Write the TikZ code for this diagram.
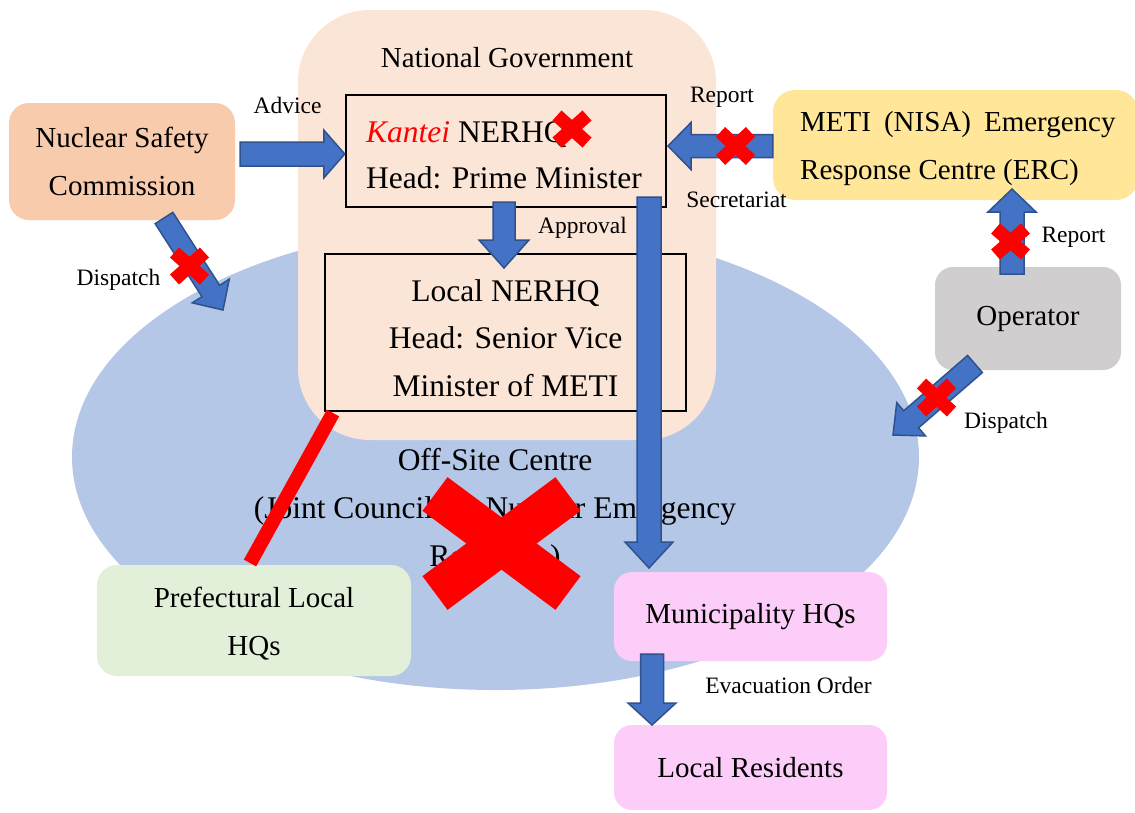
\documentclass[tikz,border=0pt]{standalone}
\usepackage{fontspec}
\setmainfont{Liberation Serif}
\usetikzlibrary{calc,shapes.geometric}
\definecolor{govbg}{HTML}{FBE5D6}
\definecolor{ellbg}{HTML}{B4C7E7}
\definecolor{nscbg}{HTML}{F8CBAD}
\definecolor{metibg}{HTML}{FFE699}
\definecolor{opbg}{HTML}{D0CECE}
\definecolor{prefbg}{HTML}{E2F0D9}
\definecolor{munbg}{HTML}{FCCDF8}
\definecolor{arrblue}{HTML}{4472C4}
\definecolor{arredge}{HTML}{2F528F}
\definecolor{xred}{HTML}{FF0000}
\newcommand{\fsmain}{\fontsize{29pt}{48pt}\selectfont}
\newcommand{\fsgov}{\fontsize{31.5pt}{47.5pt}\selectfont}
\newcommand{\fslab}{\fontsize{23.5pt}{28pt}\selectfont}
% block arrow: start, end, shaft half width, head half width, head length
\newcommand{\blockarrow}[5]{%
  \coordinate (ba-h) at ($(#2)!#5!(#1)$);
  \filldraw[blockarr]
    ($(#1)!#3!90:(#2)$) -- ($(ba-h)!#3!90:(#2)$) -- ($(ba-h)!#4!90:(#2)$)
    -- (#2) -- ($(ba-h)!#4!-90:(#2)$) -- ($(ba-h)!#3!-90:(#2)$)
    -- ($(#1)!#3!-90:(#2)$) -- cycle;
}
% red cross: centre, dx, dy, bar width
\newcommand{\redcross}[4]{%
  \draw[xred, line width=#4] ($(#1)+(-#2,-#3)$) -- ($(#1)+(#2,#3)$);
  \draw[xred, line width=#4] ($(#1)+(-#2,#3)$) -- ($(#1)+(#2,-#3)$);
}
\tikzset{
  blockarr/.style={fill=arrblue, draw=arredge, line width=1.5pt, line join=miter},
  boxnode/.style={draw=none, align=center, inner sep=0pt, font=\fsmain},
  framebox/.style={draw=black, line width=2.5pt, inner sep=0pt},
  txt/.style={align=center, inner sep=0pt},
  lab/.style={anchor=base, font=\fslab, inner sep=0pt},
}
\begin{document}
\begin{tikzpicture}[x=1pt,y=-1pt]
\path[use as bounding box, clip] (0,0) rectangle (1135,812);
% Off-site centre ellipse
\node[ellipse, fill=ellbg, draw=none, minimum width=847pt, minimum height=466pt, inner sep=0pt] (osc) at (495.5,457) {};
% National government
\node[fill=govbg, draw=none, rounded corners=72pt, minimum width=418pt, minimum height=430pt, inner sep=0pt] (gov) at (507,225) {};
\node[lab, font=\fsmain] (govtitle) at (507,67) {National Government};
% boxes
\node[boxnode, fill=nscbg, rounded corners=20pt, minimum width=226pt, minimum height=117pt] (nsc) at (122,161.5) {Nuclear Safety\\Commission};
\node[framebox, minimum width=320pt, minimum height=112pt] (kantei) at (506,151) {};
\node[txt, anchor=west, align=left, font=\fontsize{31.5pt}{46pt}\selectfont] (kantei-t) at (366,155.5) {\textcolor{xred}{\itshape Kantei} NERHQ\\Head: Prime Minister};
\node[framebox, minimum width=361pt, minimum height=157pt] (local) at (505.5,332.5) {};
\node[txt, font=\fsgov] (local-t) at (505.5,338) {Local NERHQ\\Head: Senior Vice\\Minister of METI};
\node[boxnode, fill=metibg, rounded corners=22pt, minimum width=365pt, minimum height=110pt] (meti) at (955.5,145) {};
\node[txt, anchor=west, align=left, font=\fsmain] (meti-t) at (800,149) {METI\hspace{13pt}(NISA)\hspace{13pt}Emergency\\Response Centre (ERC)};
\node[boxnode, fill=opbg, rounded corners=18pt, minimum width=186pt, minimum height=103pt] (op) at (1028,318.5) {Operator};
\node[boxnode, fill=prefbg, rounded corners=20pt, minimum width=314pt, minimum height=111pt] (pref) at (254,620.5) {};
\node[txt, font=\fsmain] (pref-t) at (254,624) {Prefectural Local\\HQs};
\node[boxnode, fill=munbg, rounded corners=18pt, minimum width=273pt, minimum height=89pt] (mun) at (750.5,616.5) {Municipality HQs};
\node[boxnode, fill=munbg, rounded corners=18pt, minimum width=273pt, minimum height=85pt] (res) at (750.5,767.5) {Local Residents};
% off-site centre text
\node[txt, font=\fontsize{31.5pt}{48pt}\selectfont] (osctext) at (495,511) {Off-Site Centre\\(Joint Council for Nuclear Emergency\\Response)};
% arrow end points
\coordinate (advA) at (240,154);   \coordinate (advB) at (kantei.west |- advA);
\coordinate (repA) at (meti.west |- 0,146); \coordinate (repB) at (668,146);
\coordinate (aprA) at (504,202);   \coordinate (aprB) at (504,268);
\coordinate (secA) at (649,197);   \coordinate (secB) at (649,568);
\coordinate (ndA) at (164,218);    \coordinate (ndB) at (223,310);
\coordinate (orA) at (1012,274);   \coordinate (orB) at (1012,189);
\coordinate (odA) at (975,364);    \coordinate (odB) at (893,435);
\coordinate (evA) at (652,654);    \coordinate (evB) at (652,725);
% block arrows
\blockarrow{advA}{advB}{12pt}{24pt}{21pt}
\blockarrow{repA}{repB}{11.5pt}{23.5pt}{23pt}
\blockarrow{aprA}{aprB}{11pt}{25pt}{28pt}
\blockarrow{secA}{secB}{12pt}{24pt}{26pt}
\blockarrow{ndA}{ndB}{10.5pt}{22pt}{22.6pt}
\blockarrow{orA}{orB}{12pt}{24pt}{23pt}
\blockarrow{odA}{odB}{11.3pt}{22pt}{24pt}
\blockarrow{evA}{evB}{11.5pt}{24pt}{22pt}
% labels
\node[lab] (l-adv) at (287.5,113) {Advice};
\node[lab] (l-rep1) at (722,102) {Report};
\node[lab] (l-sec) at (736.5,207) {Secretariat};
\node[lab] (l-apr) at (582.5,233) {Approval};
\node[lab] (l-dis1) at (118.5,285) {Dispatch};
\node[lab] (l-rep2) at (1073.5,242) {Report};
\node[lab] (l-dis2) at (1006,428) {Dispatch};
\node[lab] (l-evac) at (788.5,693) {Evacuation Order};
% red crosses
\coordinate (x1) at (572,129);
\coordinate (x2) at (735.5,146);
\coordinate (x3) at (189.5,266);
\coordinate (x4) at (1010.5,241.5);
\coordinate (x5) at (936.5,397.5);
\coordinate (xbig) at (501.5,543.5);
\redcross{x1}{15}{13.5}{13.5pt}
\redcross{x2}{15}{14}{13.5pt}
\redcross{x3}{15}{13.5}{13.5pt}
\redcross{x4}{15}{13}{13.5pt}
\redcross{x5}{15}{14}{13.5pt}
\redcross{xbig}{66.5}{49.5}{42pt}
% cut link between local NERHQ and prefecture
\coordinate (cutA) at (333,413);
\coordinate (cutB) at (250,563);
\draw[xred, line width=14pt] (cutA) -- (cutB);
\end{tikzpicture}
\end{document}
